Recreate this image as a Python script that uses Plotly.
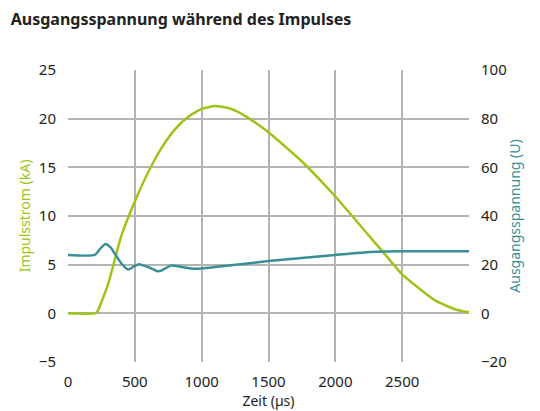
import plotly.graph_objects as go

t_strom = [0, 200, 220, 300, 400, 500, 600, 700, 800, 900, 1000, 1100, 1200, 1300, 1400, 1500,
           1750, 2000, 2250, 2400, 2500, 2750, 2900, 3000]
strom = [0, 0, 0.2, 3, 8, 11.5, 14.5, 17, 18.9, 20.2, 21, 21.3, 21.1, 20.5, 19.6, 18.6,
         15.6, 12, 8, 5.6, 4, 1.3, 0.4, 0.1]

t_spannung = [0, 200, 240, 280, 320, 350, 400, 450, 500, 530, 600, 670, 700, 770, 850, 950,
              1100, 1500, 2000, 2300, 2500, 3000]
spannung = [24, 24, 26.5, 28.5, 27, 24.5, 20.5, 18, 19.5, 20.2, 19, 17.3, 17.6, 19.6, 19, 18.3,
            19, 21.5, 24, 25.3, 25.5, 25.5]

fig = go.Figure()
fig.add_trace(go.Scatter(x=t_strom, y=strom, mode="lines",
                         line=dict(color="#9dc41a", width=2.5, shape="spline", smoothing=0.5),
                         name="Impulsstrom"))
fig.add_trace(go.Scatter(x=t_spannung, y=spannung, mode="lines", yaxis="y2",
                         line=dict(color="#3a8f97", width=2.5, shape="spline", smoothing=0.6),
                         name="Ausgangsspannung"))

font = "Noto Sans"
fig.update_layout(
    width=540, height=411, showlegend=False,
    margin=dict(l=60, r=79, t=62, b=57),
    plot_bgcolor="white", paper_bgcolor="white",
    font=dict(family=font, size=15, color="#222"),
    title=dict(text="<b>Ausgangsspannung während des Impulses</b>", x=0.005, xanchor="left",
               y=0.985, yanchor="top", font=dict(size=16, color="#222")),
    xaxis=dict(range=[0, 3000], tickvals=[0, 500, 1000, 1500, 2000, 2500, 3000],
               ticktext=["0", "500", "1000", "1500", "2000", "2500", ""],
               showgrid=True, gridcolor="#b3b3b3", gridwidth=1.5, zeroline=False, automargin=False,
               ticks="outside", ticklen=6, tickcolor="rgba(0,0,0,0)",
               title=dict(text="Zeit (µs)", font=dict(size=14), standoff=6)),
    yaxis=dict(range=[-5, 25], dtick=5, showgrid=True, gridcolor="#b3b3b3", gridwidth=1.5,
               zeroline=False, automargin=False, ticks="outside", ticklen=8, tickcolor="rgba(0,0,0,0)",
               title=dict(text="Impulsstrom (kA)", font=dict(color="#9dc41a", size=14), standoff=4)),
    yaxis2=dict(range=[-20, 100], dtick=20, overlaying="y", side="right", showgrid=False,
                zeroline=False, automargin=False, ticks="outside", ticklen=8, tickcolor="rgba(0,0,0,0)",
                title=dict(text="Ausgangsspannung (U)", font=dict(color="#3a8f97", size=14), standoff=4)),
)

fig.write_html("out.html")
